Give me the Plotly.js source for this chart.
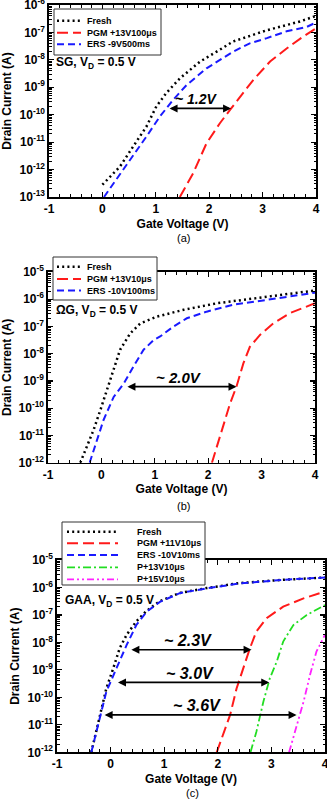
<!DOCTYPE html>
<html>
<head>
<meta charset="utf-8">
<script src="https://cdn.plot.ly/plotly-3.0.1.min.js"></script>
<style>html,body{margin:0;padding:0;background:#fff;}#chart{width:327px;height:804px;}</style>
</head>
<body>
<div id="chart"></div>
<script>
// ---------- DATA ----------
// (a) SG device
const aFreshV = [0, 0.33, 0.575, 0.825, 1.01, 1.2, 1.45, 1.83, 2.14, 2.45, 3.08, 3.7, 4];
const aFreshI = [2.8e-13, 1.3e-12, 6.9e-12, 3.7e-11, 2.0e-10, 6.3e-10, 2.1e-9, 8.7e-9, 2.0e-8, 4.7e-8, 1.2e-7, 2.5e-7, 4.0e-7];
const aPgmV = [1.45, 1.7, 1.95, 2.2, 2.39, 2.58, 2.83, 3.14, 3.45, 3.76, 4];
const aPgmI = [1.0e-13, 7.4e-13, 9.1e-12, 4.9e-11, 1.5e-10, 4.6e-10, 1.9e-9, 8.7e-9, 2.6e-8, 7.1e-8, 1.4e-7];
const aErsV = [0.03, 0.26, 0.575, 0.825, 1.075, 1.325, 1.575, 1.95, 2.45, 2.76, 3.08, 3.45, 3.83, 4];
const aErsI = [1.0e-13, 4.3e-13, 3.0e-12, 1.6e-11, 8.5e-11, 3.5e-10, 1.2e-9, 4.9e-9, 2.0e-8, 4.0e-8, 6.2e-8, 1.1e-7, 1.6e-7, 2.3e-7];
const aNames = ["Fresh", "PGM +13V100μs", "ERS -9V500ms"];

// (b) Omega-gate device
const bFreshV = [-0.395, -0.27, -0.146, -0.02, 0.1, 0.23, 0.35, 0.54, 0.73, 1.04, 1.54, 2.16, 3.1, 4];
const bFreshI = [1.0e-12, 3.9e-12, 1.6e-11, 8.5e-11, 4.7e-10, 2.5e-9, 1.4e-8, 5.6e-8, 1.3e-7, 2.3e-7, 4.1e-7, 7.1e-7, 1.26e-6, 2.1e-6];
const bPgmV = [2.07, 2.22, 2.41, 2.53, 2.66, 2.78, 2.97, 3.22, 3.53, 4];
const bPgmI = [1.0e-12, 9.1e-12, 1.5e-10, 6.3e-10, 4.5e-9, 1.8e-8, 4.9e-8, 1.3e-7, 3.1e-7, 7.1e-7];
const bErsV = [-0.22, -0.08, 0.04, 0.23, 0.42, 0.6, 0.79, 0.98, 1.1, 1.35, 1.6, 1.97, 2.47, 3.1, 4];
const bErsI = [1.0e-12, 6.8e-12, 3.7e-11, 2.6e-10, 8.1e-10, 3.4e-9, 1.4e-8, 3.2e-8, 4.3e-8, 1.0e-7, 2.0e-7, 3.5e-7, 6.3e-7, 9.5e-7, 1.74e-6];
const bNames = ["Fresh", "PGM +13V10μs", "ERS -10V100ms"];

// (c) GAA device
const cFreshV = [-0.36, -0.2, -0.08, 0.05, 0.17, 0.3, 0.48, 0.67, 0.92, 1.29, 1.79, 2.41, 3.22, 4];
const cFreshI = [1e-12, 2.3e-11, 2.1e-10, 1.15e-9, 6.2e-9, 1.9e-8, 5.8e-8, 1.4e-7, 3.2e-7, 6.3e-7, 9.5e-7, 1.45e-6, 1.9e-6, 2.3e-6];
const cPgmV = [1.98, 2.1, 2.23, 2.35, 2.47, 2.6, 2.72, 2.91, 3.22, 3.6, 4];
const cPgmI = [1e-12, 4.3e-12, 2.3e-11, 2.1e-10, 1.15e-9, 6.2e-9, 2.5e-8, 7.6e-8, 2.0e-7, 4.0e-7, 7.1e-7];
const cErsV = [-0.36, -0.2, -0.08, 0.11, 0.3, 0.48, 0.67, 0.92, 1.29, 1.79, 2.41, 3.22, 4];
const cErsI = [1e-12, 1.7e-11, 1.6e-10, 1.15e-9, 8.1e-9, 4.3e-8, 1.3e-7, 3.0e-7, 6.2e-7, 9.3e-7, 1.4e-6, 1.9e-6, 2.3e-6];
const cP13V = [2.61, 2.72, 2.85, 2.97, 3.1, 3.22, 3.41, 3.66, 4];
const cP13I = [1e-12, 5.6e-12, 6.9e-11, 4.9e-10, 2.0e-9, 1.07e-8, 4.3e-8, 1.0e-7, 2.3e-7];
const cP15V = [3.33, 3.47, 3.6, 3.72, 3.84, 4];
const cP15I = [1e-12, 1e-11, 6.9e-11, 6.5e-10, 4.6e-9, 1.9e-8];
const cNames = ["Fresh", "PGM +11V10μs", "ERS -10V10ms", "P+13V10μs", "P+15V10μs"];

// Window shifts (double arrows): from V, to V, at current
const aShiftFrom = [1.23], aShiftTo = [2.41], aShiftI = [1.7e-10], aShiftText = ["~ 1.2V"];
const bShiftFrom = [0.46], bShiftTo = [2.53], bShiftI = [6.2e-10], bShiftText = ["~ 2.0V"];
const cShiftFrom = [0.36, 0.11, -0.14], cShiftTo = [2.63, 2.96, 3.47], cShiftI = [5.4e-9, 3.5e-10, 2.3e-11];
const cShiftText = ["~ 2.3V", "~ 3.0V", "~ 3.6V"];

const xTicks = [-1, 0, 1, 2, 3, 4];
const aYExp = [-13, -12, -11, -10, -9, -8, -7, -6];
const bYExp = [-12, -11, -10, -9, -8, -7, -6, -5];
const cYExp = [-12, -11, -10, -9, -8, -7, -6, -5];

// ---------- STYLE ----------
const W = 327, H = 804;
const FONT = "Liberation Sans, Arial, sans-serif";
const styles = {
  fresh: {color: "#000000", width: 2.5, dash: "2px,3.2px"},
  pgm:   {color: "#ff1a1a", width: 2, dash: "11px,5px"},
  ers:   {color: "#1a1aff", width: 2, dash: "7px,4px"},
  p13:   {color: "#22dd22", width: 1.8, dash: "8px,3px,2px,3px"},
  p15:   {color: "#ff22ff", width: 1.8, dash: "7px,3px,2px,3px,2px,3px"}
};
const px = v => v / W;
const py = v => 1 - v / H;

// panels: pixel boxes [left, right, top, bottom]
const panels = [
  {box: [49, 316, 5, 197], yExp: aYExp, suffix: ""},
  {box: [48, 315, 272, 462.7], yExp: bYExp, suffix: "2"},
  {box: [57, 325, 560, 752.3], yExp: cYExp, suffix: "3"}
];

const traces = [];
function addTrace(v, i, name, st, k) {
  traces.push({
    x: v, y: i, name: name, type: "scatter", mode: "lines",
    xaxis: "x" + panels[k].suffix, yaxis: "y" + panels[k].suffix,
    line: {color: st.color, width: st.width, dash: st.dash},
    showlegend: false, hoverinfo: "skip"
  });
}
addTrace(aFreshV, aFreshI, aNames[0], styles.fresh, 0);
addTrace(aPgmV, aPgmI, aNames[1], styles.pgm, 0);
addTrace(aErsV, aErsI, aNames[2], styles.ers, 0);
addTrace(bFreshV, bFreshI, bNames[0], styles.fresh, 1);
addTrace(bPgmV, bPgmI, bNames[1], styles.pgm, 1);
addTrace(bErsV, bErsI, bNames[2], styles.ers, 1);
addTrace(cFreshV, cFreshI, cNames[0], styles.fresh, 2);
addTrace(cPgmV, cPgmI, cNames[1], styles.pgm, 2);
addTrace(cP13V, cP13I, cNames[3], styles.p13, 2);
addTrace(cP15V, cP15I, cNames[4], styles.p15, 2);
addTrace(cErsV, cErsI, cNames[2], styles.ers, 2);

const layout = {
  width: W, height: H,
  margin: {l: 0, r: 0, t: 0, b: 0},
  paper_bgcolor: "#fff", plot_bgcolor: "#fff",
  showlegend: false,
  font: {family: FONT, color: "#000", size: 12},
  shapes: [], annotations: []
};

panels.forEach((p, k) => {
  const [l, r, t, b] = p.box;
  const minor = [];
  p.yExp.slice(0, -1).forEach(e => { for (let m = 2; m <= 9; m++) minor.push(m * Math.pow(10, e)); });
  layout["xaxis" + p.suffix] = {
    domain: [px(l), px(r)], anchor: "y" + p.suffix,
    range: [-1, 4], tickmode: "array", tickvals: xTicks, ticktext: xTicks.map(String),
    ticks: "inside", ticklen: 5, tickwidth: 1.2, tickcolor: "#000",
    minor: {tickmode: "linear", tick0: -1, dtick: 0.2, ticks: "inside", ticklen: 3, tickwidth: 1, tickcolor: "#000", showgrid: false},
    showline: true, linecolor: "#000", linewidth: 1.6, mirror: "ticks",
    showgrid: false, zeroline: false, automargin: false, ticklabeloverflow: "allow",
    tickfont: {family: FONT, size: 12, weight: "bold", color: "#000"},
    title: {text: "Gate Voltage (V)", font: {family: FONT, size: 12, weight: "bold", color: "#000"}, standoff: 4}
  };
  layout["yaxis" + p.suffix] = {
    domain: [py(b), py(t)], anchor: "x" + p.suffix, type: "log",
    range: [p.yExp[0], p.yExp[p.yExp.length - 1]],
    tickmode: "array", tickvals: p.yExp.map(e => Math.pow(10, e)),
    ticktext: p.yExp.map(e => "10<sup>" + e + "</sup>"),
    ticks: "inside", ticklen: 5, tickwidth: 1.2, tickcolor: "#000",
    minor: {tickmode: "array", tickvals: minor, ticks: "inside", ticklen: 2.5, tickwidth: 1, tickcolor: "#000", showgrid: false},
    showline: true, linecolor: "#000", linewidth: 1.6, mirror: "ticks",
    showgrid: false, zeroline: false, automargin: false, ticklabeloverflow: "allow",
    tickfont: {family: FONT, size: 12, weight: "bold", color: "#000"},
    title: {text: "Drain Current (A)", font: {family: FONT, size: 12, weight: "bold", color: "#000"}, standoff: 5}
  };
});

// device labels
const devLabels = [
  {text: "SG, V<sub>D</sub> = 0.5 V", x: 54, y: 63},
  {text: "ΩG, V<sub>D</sub> = 0.5 V", x: 54, y: 311},
  {text: "GAA, V<sub>D</sub> = 0.5 V", x: 63, y: 601}
];
devLabels.forEach(d => layout.annotations.push({
  xref: "paper", yref: "paper", x: px(d.x), y: py(d.y), xanchor: "left", yanchor: "middle",
  text: d.text, showarrow: false, font: {family: FONT, size: 12, weight: "bold", color: "#000"}
}));

// panel captions
[["(a)", 183, 238], ["(b)", 183, 506], ["(c)", 192, 793]].forEach(c => layout.annotations.push({
  xref: "paper", yref: "paper", x: px(c[1]), y: py(c[2]), xanchor: "center", yanchor: "middle",
  text: c[0], showarrow: false, font: {family: FONT, size: 11, color: "#000"}
}));

// shift arrows
function addShifts(from, to, cur, txt, k, fs) {
  const s = panels[k].suffix;
  from.forEach((f, j) => {
    const ly = Math.log10(cur[j]);
    layout.annotations.push({
      xref: "x" + s, yref: "y" + s, axref: "x" + s, ayref: "y" + s,
      x: to[j], y: ly, ax: f, ay: ly, text: "", showarrow: true,
      arrowhead: 2, arrowside: "end+start", arrowsize: 1, arrowwidth: 1.6, arrowcolor: "#000", standoff: 0, startstandoff: 0
    });
    layout.annotations.push({
      xref: "x" + s, yref: "y" + s, x: (f + to[j]) / 2 - 0.05, y: ly, yshift: 9,
      xanchor: "center", yanchor: "middle", text: txt[j], showarrow: false,
      font: {family: FONT, size: fs, weight: "bold", style: "italic", color: "#000"}
    });
  });
}
addShifts(aShiftFrom, aShiftTo, aShiftI, aShiftText, 0, 14);
addShifts(bShiftFrom, bShiftTo, bShiftI, bShiftText, 1, 15);
addShifts(cShiftFrom, cShiftTo, cShiftI, cShiftText, 2, 16);

// legends (drawn boxes with samples built from the series names/styles)
const legends = [
  {box: [54, 161, 9, 55], rows: [20.7, 32.7, 44.3], line: [57, 81], tx: 85,
   names: aNames, st: [styles.fresh, styles.pgm, styles.ers]},
  {box: [53, 157, 257, 300], rows: [266.7, 279, 290.5], line: [57, 81], tx: 85,
   names: bNames, st: [styles.fresh, styles.pgm, styles.ers]},
  {box: [62, 205, 522, 585], rows: [531.7, 543.3, 555, 567.3, 579.3], line: [67, 118], tx: 135,
   names: cNames, st: [styles.fresh, styles.pgm, styles.ers, styles.p13, styles.p15]}
];
legends.forEach(L => {
  layout.shapes.push({type: "rect", xref: "paper", yref: "paper", layer: "above",
    x0: px(L.box[0]), x1: px(L.box[1]), y0: py(L.box[3]), y1: py(L.box[2]),
    line: {color: "#333", width: 1}, fillcolor: "#fff"});
  L.names.forEach((n, j) => {
    layout.shapes.push({type: "line", xref: "paper", yref: "paper", layer: "above",
      x0: px(L.line[0]), x1: px(L.line[1]), y0: py(L.rows[j]), y1: py(L.rows[j]),
      line: {color: L.st[j].color, width: L.st[j].width, dash: L.st[j].dash}});
    layout.annotations.push({xref: "paper", yref: "paper", x: px(L.tx), y: py(L.rows[j]),
      xanchor: "left", yanchor: "middle", text: n, showarrow: false,
      font: {family: FONT, size: 9, weight: "bold", color: "#000"}});
  });
});

Plotly.newPlot("chart", traces, layout, {staticPlot: true, displayModeBar: false});
</script>
</body>
</html>
